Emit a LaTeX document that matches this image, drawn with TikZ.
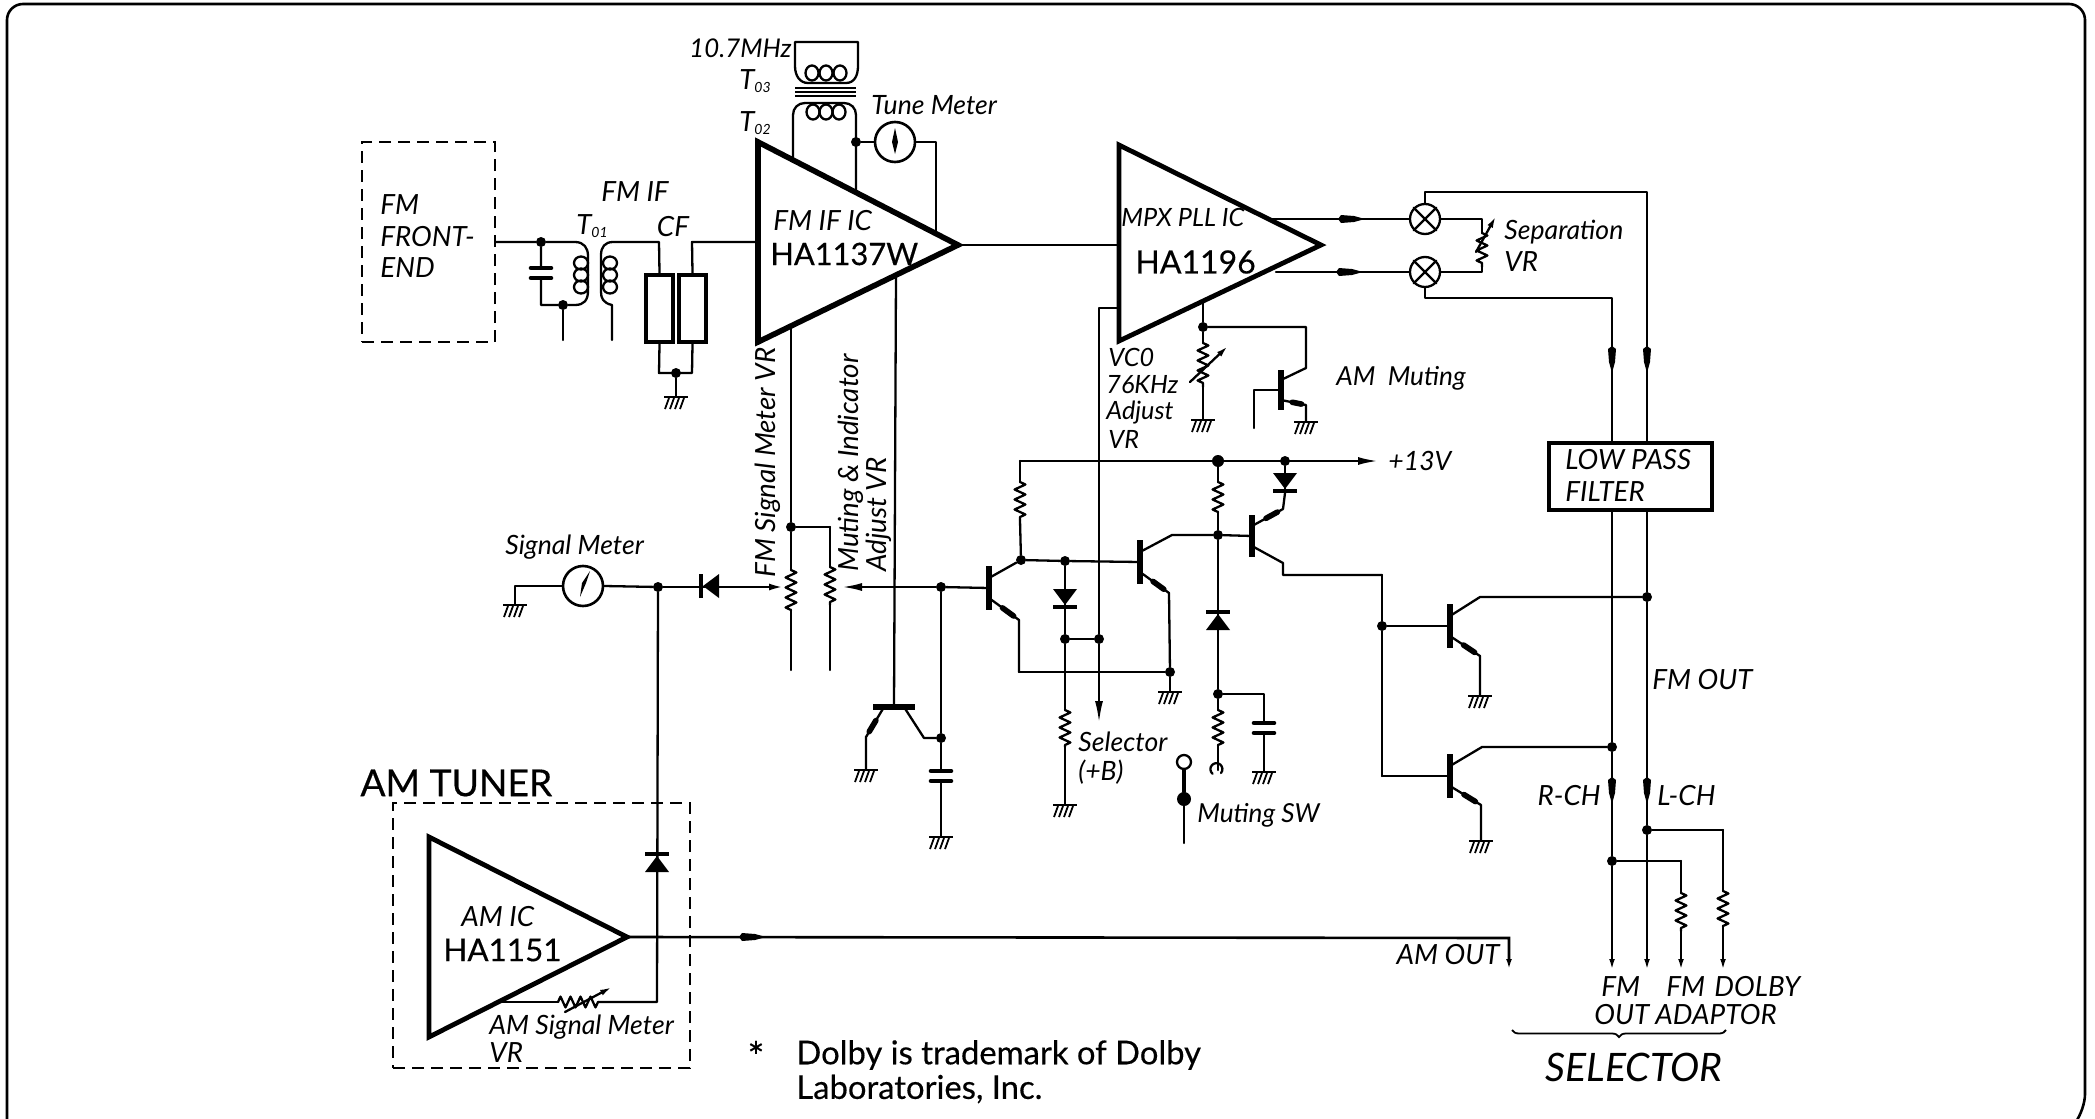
\documentclass[tikz,border=0pt]{standalone}
\usepackage{fontspec}
\setmainfont{Lato}
\newfontfamily\medfont[FakeBold=0.4]{Lato}
\usetikzlibrary{calc,arrows.meta,decorations.pathmorphing,decorations.pathreplacing}
\newcommand\defpt[3]{\coordinate (#1) at (#2,#3);}
\tikzset{
  wire/.style={line width=1.15pt,line cap=round,line join=round},
  barw/.style={line width=2.8pt,line cap=butt},
  icbody/.style={line width=2.8pt,line join=miter},
  dashbox/.style={draw,line width=1.1pt,dash pattern=on 6pt off 3.5pt,inner sep=0pt},
  dot/.style={circle,fill=black,inner sep=0pt,minimum size=5pt},
  txt/.style={inner sep=0pt,font=\itshape\fontsize{13.9}{16}\selectfont},
  midtxt/.style={inner sep=0pt,font=\itshape\fontsize{13.3}{16}\selectfont},
  smtxt/.style={inner sep=0pt,font=\itshape\fontsize{12.6}{15}\selectfont},
  bigtxt/.style={inner sep=0pt,font=\itshape\fontsize{19.6}{22}\selectfont},
  chip/.style={inner sep=0pt,font=\medfont\fontsize{16}{18}\selectfont},
  heavy/.style={inner sep=0pt,font=\medfont\fontsize{16.4}{19}\selectfont},
  rzig/.style={decorate,decoration={zigzag,amplitude=2.7pt,segment length=5pt}},
  endtip/.style={-{Latex[length=6pt,width=2.8pt]}},
  lampn/.style={draw,circle,line width=1.15pt,inner sep=0pt,minimum size=15pt},
  metern/.style={draw,circle,line width=1.3pt,inner sep=0pt,minimum size=20pt},
  ahead/.pic={\fill (-14,0)--(-11,-4)--(2,-3)--(13,0)--(2,3)--(-11,4)--cycle;},
  gnd/.pic={
    \draw[line width=1.4pt] (-12,0)--(12,0);
    \foreach \hx in {-7,-2,3,8}{\draw[line width=.9pt] (\hx,1)--(\hx-4,12);}
  },
  dio/.pic={
    \fill (-8,-12)--(-8,12)--(8,0)--cycle;
    \draw[line width=2.3pt] (10,-12)--(10,12);
  },
  capa/.pic={
    \draw[line width=2.3pt,line cap=round] (-10,-5)--(10,-5);
    \draw[line width=2.3pt,line cap=round] (-10,5)--(10,5);
  },
}
\newcommand\Blob[2]{\draw[line width=2.8pt,line cap=round] ($(#1)!.45!(#2)$)--($(#1)!.82!(#2)$);}
% name, bar x, mid y, half length : gives name-t, name-b, name-s (upper lead start), name-r (lower lead start), name-m (base)
\newcommand\Trans[4]{
  \coordinate (#1-t) at (#2,{#3-#4});
  \coordinate (#1-b) at (#2,{#3+#4});
  \coordinate (#1-s) at (#2,{#3-10});
  \coordinate (#1-r) at (#2,{#3+10});
  \coordinate (#1-m) at (#2,#3);
  \draw[barw] (#1-t)--(#1-b);
}
\newcommand\Res[4]{\draw[wire] (#1)--(#2); \draw[wire,rzig] (#2)--(#3); \draw[wire] (#3)--(#4);}
\begin{document}
\begin{tikzpicture}[x=0.5pt,y=-0.5pt]
\useasboundingbox (0,0) rectangle (2095,1119);
\fill[white] (0,0) rectangle (2095,1119);
% ---------- frame
\defpt{fa}{7}{1119}\defpt{fb}{7}{4}\defpt{fc}{2085}{4}\defpt{fd}{2085}{1110}\defpt{fe}{2078}{1119}
\draw[line width=1.3pt,rounded corners=8pt] (fa)--(fb)--(fc)--(fd)--(fe);

% ---------- FM front end and IF stage
\node[dashbox,minimum width=66.5pt,minimum height=100pt] (fmbox) at (428.5,242) {};
\node[txt,anchor=west] (tfm1) at (380,205) {FM};
\node[txt,anchor=west] (tfm2) at (380,237) {FRONT-};
\node[txt,anchor=west] (tfm3) at (380,268) {END};
\node[dot] (j1) at (541,242) {};
\node[dot] (j2) at (563,305) {};
\defpt{p1a}{575}{242}\defpt{p1b}{588}{256}\defpt{p1c}{588}{291}\defpt{p1d}{575}{305}
\defpt{c1a}{541}{305}\defpt{g1}{563}{340}
\draw[wire] (fmbox.east)--(j1)--(p1a) .. controls (584,242) and (588,248) .. (p1b)--(p1c) .. controls (588,300) and (584,305) .. (p1d)--(j2)--(c1a)--(j1);
\fill[white] (533,269) rectangle (549,277);
\pic at (541,273) {capa};
\draw[wire] (j2)--(g1);
\foreach \cy in {263,275,287}{\draw[wire] (581,\cy) ellipse [x radius=7,y radius=6.5];}
\foreach \cy in {263,275,287}{\draw[wire] (610,\cy) ellipse [x radius=7,y radius=6.5];}
\defpt{s1a}{613}{242}\defpt{s1b}{601}{255}\defpt{s1c}{601}{292}\defpt{s1d}{612}{305}\defpt{s1e}{612}{340}
\node[draw,line width=2.2pt,minimum width=13.5pt,minimum height=33.5pt,inner sep=0pt] (cf1) at (659.5,308.5) {};
\node[draw,line width=2.2pt,minimum width=13.5pt,minimum height=33.5pt,inner sep=0pt] (cf2) at (692.5,308.5) {};
\defpt{cft}{659}{242}\defpt{cfr}{692}{242}\defpt{cfa}{659}{373}\defpt{cfb}{692}{373}
\draw[wire] (s1e)--(s1d) .. controls (603,303) and (601,298) .. (s1c)--(s1b) .. controls (601,247) and (605,242) .. (s1a)--(cft)--(cf1.north);
\draw[wire] (cf1.south)--(cfa)--(cfb)--(cf2.south);
\node[dot] (j3) at (676,373) {};
\defpt{g2}{676}{397}
\draw[wire] (j3)--(g2);
\pic at (g2) {gnd};
\node[txt,anchor=center] (tfmif) at (635,192) {FM IF};
\node[txt,anchor=center] (tt01) at (592,226) {T\raisebox{-.2ex}{\scriptsize 01}};
\node[txt,anchor=center] (tcf) at (673,227) {CF};

% ---------- FM IF IC
\defpt{ifa}{758}{142}\defpt{ifb}{758}{342}\defpt{ifc}{958}{245}
\draw[icbody] (ifa)--(ifb)--(ifc)--cycle;
\draw[wire] (cf2.north)--(cfr)--(756,242);
\node[txt,anchor=west] (tific) at (773,221) {FM IF IC};
\node[chip,anchor=west,font=\medfont\fontsize{15.4}{18}\selectfont] (tifn) at (770,254) {HA1137W};
% transformers
\defpt{t2l}{793}{160}\defpt{t2r}{856}{192}\defpt{t2a}{793}{115}\defpt{t2b}{805}{103}\defpt{t2c}{844}{103}\defpt{t2d}{856}{115}
\draw[wire] (t2l)--(t2a) .. controls (793,108) and (798,103) .. (t2b)--(t2c) .. controls (851,103) and (856,108) .. (t2d)--(t2r);
\foreach \cx in {813,826,839}{\draw[wire] (\cx,112) ellipse [x radius=6.5,y radius=7.5];}
\foreach \cx in {812,826,840}{\draw[wire] (\cx,73) ellipse [x radius=6.5,y radius=7.5];}
\defpt{t3a}{795}{42}\defpt{t3b}{858}{42}\defpt{t3c}{795}{66}\defpt{t3d}{858}{66}\defpt{t3e}{808}{83}\defpt{t3f}{846}{83}
\draw[wire] (t3c)--(t3a)--(t3b)--(t3d) .. controls (858,76) and (854,83) .. (t3f)--(t3e) .. controls (800,83) and (795,76) .. (t3c);
\foreach \ly in {88,92,96}{\draw[line width=.9pt] (795,\ly)--(856,\ly);}
\node[dot] (j4) at (856,142) {};
\node[metern] (mt) at (895,142) {};
\defpt{mtr}{936}{142}\defpt{mtd}{936}{234}
\draw[wire] (j4)--(mt.west);
\draw[wire] (mt.east)--(mtr)--(mtd);
\fill (895,128)--(892,142)--(895,154)--(898,142)--cycle;
\node[smtxt,anchor=east,font=\itshape\fontsize{12.9}{15}\selectfont] (t107) at (792,48) {10.7MHz};
\node[txt,anchor=center] (tt03) at (755,81) {T\raisebox{-.2ex}{\scriptsize 03}};
\node[txt,anchor=center] (tt02) at (755,123) {T\raisebox{-.2ex}{\scriptsize 02}};
\node[midtxt,anchor=west] (ttune) at (871,105) {Tune Meter};

% ---------- MPX IC
\defpt{mxa}{1119}{145}\defpt{mxb}{1119}{341}\defpt{mxc}{1321}{245}
\draw[wire] (ifc)--(1119,245);
\draw[line width=2.4pt,line join=miter] (mxa)--(mxb)--(mxc)--cycle;
\node[smtxt,anchor=west] (tmx) at (1121,217) {MPX PLL IC};
\node[chip,anchor=west] (tmxn) at (1135,262) {HA1196};
% lamps
\node[lampn] (l1) at (1425,219) {};
\node[lampn] (l2) at (1425,272) {};
\foreach \ln in {l1,l2}{
  \draw[wire] (\ln.north east)--(\ln.south west);
  \draw[wire] (\ln.north west)--(\ln.south east);
}
\defpt{o1}{1272}{219}\defpt{o2}{1276}{272}
\draw[wire] (o1)--(l1.west);
\draw[wire] (o2)--(l2.west);
\pic at (1352,219) {ahead};
\pic at (1350,272) {ahead};
\defpt{ra}{1482}{219}\defpt{rb}{1482}{233}\defpt{rc}{1482}{267}\defpt{rd}{1482}{272}
\draw[wire] (l1.east)--(ra)--(rb);
\draw[wire,rzig] (rb)--(rc);
\draw[wire] (rc)--(rd)--(l2.east);
\defpt{rva}{1476}{252}\defpt{rvb}{1496}{216}
\draw[wire,-{Latex[length=6pt,width=3pt]}] (rva)--(rvb);
\node[midtxt,anchor=west] (tsep) at (1504,232) {Separation};
\node[txt,anchor=west] (tsvr) at (1504,262) {VR};
% lines to LPF
\node[draw,line width=2.2pt,minimum width=81.5pt,minimum height=33.5pt,inner sep=0pt] (lpf) at (1630.5,476.5) {};
\node[txt,anchor=west] (tlpf1) at (1565,460) {LOW PASS};
\node[txt,anchor=west] (tlpf2) at (1565,492) {FILTER};
\defpt{lt}{1425}{192}\defpt{lr}{1647}{192}\defpt{ld}{1647}{443}
\defpt{mt2}{1425}{298}\defpt{mr}{1612}{298}\defpt{md}{1612}{443}
\draw[wire] (l1.north)--(lt)--(lr)--(ld);
\draw[wire] (l2.south)--(mt2)--(mr)--(md);
\pic[rotate=-90] at (1612,360) {ahead};
\pic[rotate=-90] at (1647,360) {ahead};

% ---------- VCO pot and AM muting
\node[dot] (j5) at (1203,327) {};
\defpt{vt}{1203}{301}\defpt{va}{1203}{343}\defpt{vb}{1203}{387}\defpt{vg}{1203}{420}
\draw[wire] (vt)--(j5);
\Res{j5}{va}{vb}{vg}
\pic at (vg) {gnd};
\defpt{vva}{1190}{382}\defpt{vvb}{1228}{346}
\draw[wire,-{Latex[length=6pt,width=3pt]}] (vva)--(vvb);
\node[smtxt,anchor=west] (tv1) at (1108,357) {VC0};
\node[smtxt,anchor=west] (tv2) at (1106,385) {76KHz};
\node[smtxt,anchor=west] (tv3) at (1106,413) {Adjust};
\node[smtxt,anchor=west] (tv4) at (1108,439) {VR};
\Trans{qm}{1281}{390}{20}
\defpt{qmc}{1306}{368}\defpt{qme}{1306}{405}\defpt{qmt}{1306}{327}\defpt{qmg}{1306}{422}\defpt{qmh}{1254}{390}\defpt{qmi}{1254}{428}
\draw[wire] (j5)--(qmt)--(qmc)--(qm-s);
\draw[wire] (qm-r)--(qme)--(qmg);
\Blob{qm-r}{qme}
\pic at (qmg) {gnd};
\draw[wire] (qm-m)--(qmh)--(qmi);
\node[smtxt,anchor=west,font=\itshape\fontsize{13.1}{15}\selectfont] (tmut) at (1336,378) {AM\ \ Muting};

% ---------- +13 V rail
\defpt{ra0}{1020}{461}\defpt{ra1}{1378}{461}
\node[dot,minimum size=6pt] (j6) at (1218,461) {};
\node[dot] (j7) at (1285,461) {};
\draw[wire,-{Latex[length=10pt,width=4pt]}] (ra0)--(ra1);
\node[midtxt,anchor=west] (t13) at (1388,461) {+13V};

% Q1
\Trans{qa}{989}{588}{22}
\node[dot] (j8) at (1021,560) {};
\defpt{r1a}{1020}{482}\defpt{r1b}{1020}{520}
\Res{ra0}{r1a}{r1b}{j8}
\draw[wire] (qa-s)--(j8);
\defpt{qae}{1019}{620}\defpt{qaf}{1019}{672}
\draw[wire] (qa-r)--(qae)--(qaf);
\Blob{qa-r}{qae}
% Q2
\Trans{qb}{1140}{562}{22}
\defpt{qbc}{1172}{535}\defpt{qbe}{1169}{593}
\node[dot] (j9) at (1218,535) {};
\node[dot] (j10) at (1170,672) {};
\node[dot] (j11) at (1065,561) {};
\node[dot] (j12) at (1065,639) {};
\node[dot] (j13) at (1099,639) {};
\draw[wire] (j8)--(j11)--(qb-m);
\draw[wire] (qb-s)--(qbc)--(j9);
\draw[wire] (qb-r)--(qbe)--(j10);
\Blob{qb-r}{qbe}
\draw[wire] (qaf)--(j10);
\defpt{g3}{1170}{692}
\draw[wire] (j10)--(g3);
\pic at (g3) {gnd};
% R to rail, diode down
\defpt{r2a}{1218}{482}\defpt{r2b}{1218}{512}
\Res{j6}{r2a}{r2b}{j9}
\node[dot] (j14) at (1218,694) {};
\draw[wire] (j9)--(j14);
\pic[rotate=90] at (1218,622) {dio};
\defpt{r3a}{1218}{710}\defpt{r3b}{1218}{745}\defpt{r3c}{1218}{770}
\Res{j14}{r3a}{r3b}{r3c}
\draw[wire] (1221,773) arc[start angle=-40,end angle=230,x radius=6,y radius=-6];
\defpt{c3a}{1264}{694}\defpt{c3b}{1264}{772}
\draw[wire] (j14)--(c3a)--(c3b);
\fill[white] (1255,724) rectangle (1273,732);
\pic at (1264,728) {capa};
\pic at (c3b) {gnd};
% Q3
\Trans{qc}{1252}{536}{21}
\defpt{qcu}{1283}{509}\defpt{qcv}{1285}{493}\defpt{qcl}{1283}{563}\defpt{qcd}{1283}{575}\defpt{qcx}{1382}{575}
\draw[wire] (j9)--(qc-m);
\draw[wire] (qc-s)--(qcu)--(qcv);
\Blob{qc-s}{qcu}
\draw[wire] (j7)--(qcv);
\pic[rotate=-90] at (1285,481) {dio};
\draw[wire] (qc-r)--(qcl)--(qcd)--(qcx);
% diode and resistor on the left
\draw[wire] (j11)--(j12);
\pic[rotate=-90] at (1065,597) {dio};
\defpt{r4a}{1065}{710}\defpt{r4b}{1065}{747}\defpt{g4}{1065}{805}
\Res{j12}{r4a}{r4b}{g4}
\pic at (g4) {gnd};
\draw[wire] (j12)--(j13);
% VCO / selector line
\defpt{vc0}{1119}{308}\defpt{vc1}{1099}{308}\defpt{vc2}{1099}{723}
\draw[wire] (vc0)--(vc1)--(j13);
\draw[wire,-{Latex[length=11pt,width=4pt]}] (j13)--(vc2);
\node[midtxt,anchor=west] (tsel1) at (1078,742) {Selector};
\node[midtxt,anchor=west] (tsel2) at (1078,772) {(+B)};
% muting switch
\node[draw,circle,line width=1.15pt,minimum size=7pt,inner sep=0pt] (sw1) at (1184,762) {};
\node[dot,minimum size=7pt] (sw2) at (1184,799) {};
\defpt{sw3}{1184}{843}
\draw[line width=2.4pt,line cap=round] (sw1.south)--(sw2);
\draw[wire] (sw2)--(sw3);
\node[midtxt,anchor=west,font=\itshape\fontsize{13.1}{15}\selectfont] (tmsw) at (1197,815) {Muting SW};

% ---------- Q5, Q6 mute transistors
\node[dot] (j15) at (1382,626) {};
\defpt{qf}{1382}{776}
\draw[wire] (qcx)--(j15)--(qf);
\Trans{qd}{1450}{626}{22}
\Trans{qe}{1450}{776}{22}
\draw[wire] (j15)--(qd-m);
\draw[wire] (qf)--(qe-m);
\defpt{qdc}{1480}{597}\defpt{qde}{1480}{656}\defpt{g5}{1480}{696}
\defpt{qec}{1482}{747}\defpt{qee}{1481}{805}\defpt{g6}{1481}{841}
\node[dot] (j16) at (1647,597) {};
\node[dot] (j17) at (1612,747) {};
\draw[wire] (qd-s)--(qdc)--(j16);
\draw[wire] (qd-r)--(qde)--(g5);
\Blob{qd-r}{qde}
\pic at (g5) {gnd};
\draw[wire] (qe-s)--(qec)--(j17);
\draw[wire] (qe-r)--(qee)--(g6);
\Blob{qe-r}{qee}
\pic at (g6) {gnd};

% ---------- outputs
\node[dot] (j18) at (1647,830) {};
\node[dot] (j19) at (1612,861) {};
\defpt{e1}{1612}{971}\defpt{e2}{1647}{971}\defpt{e3}{1681}{971}\defpt{e4}{1723}{971}
\draw[wire] (1612,510)--(j17)--(j19);
\draw[wire,endtip] (j19)--(e1);
\draw[wire] (1647,510)--(j16)--(j18);
\draw[wire,endtip] (j18)--(e2);
\pic[rotate=-90] at (1612,791) {ahead};
\pic[rotate=-90] at (1647,791) {ahead};
\defpt{oa}{1681}{861}\defpt{ob}{1681}{893}\defpt{oc}{1681}{931}
\draw[wire] (j19)--(oa);
\Res{oa}{ob}{oc}{oc}
\draw[wire,endtip] (oc)--(e3);
\defpt{pa}{1723}{830}\defpt{pb}{1723}{891}\defpt{pc}{1723}{926}
\draw[wire] (j18)--(pa);
\Res{pa}{pb}{pc}{pc}
\draw[wire,endtip] (pc)--(e4);
\node[txt,anchor=west] (tfmo) at (1652,680) {FM OUT};
\node[txt,anchor=east] (trch) at (1601,796) {R-CH};
\node[txt,anchor=west] (tlch) at (1657,796) {L-CH};
\node[txt,anchor=west] (to1) at (1601,987) {FM};
\node[txt,anchor=west] (to2) at (1594,1015) {OUT};
\node[txt,anchor=west] (to3) at (1666,987) {FM};
\node[txt,anchor=west] (to4) at (1714,987) {DOLBY};
\node[txt,anchor=west] (to5) at (1655,1015) {ADAPTOR};
\defpt{ba}{1512}{1030}\defpt{bb}{1726}{1030}
\draw[line width=.9pt,decorate,decoration={brace,amplitude=3.5pt,mirror}] (ba)--(bb);
\node[bigtxt,anchor=center] (tselr) at (1634,1067) {SELECTOR};

% ---------- signal meter and pots
\defpt{gs}{515}{605}\defpt{sm0}{515}{586}
\node[metern] (ms) at (583,586) {};
\node[dot] (j20) at (658,587) {};
\draw[wire] (gs)--(sm0)--(ms.west);
\draw[wire] (ms.east)--(j20);
\pic at (gs) {gnd};
\fill (590,571)--(586,583)--(580,597)--(582,583)--cycle;
\node[midtxt,anchor=west] (tsm) at (505,547) {Signal Meter};
\pic[rotate=180] at (711,586) {dio};
\defpt{pm}{783}{587}
\draw[wire,-{Latex[length=7pt,width=3.5pt]}] (j20)--(pm);
% FM signal pot
\defpt{ws}{791}{326}\defpt{fa1}{791}{570}\defpt{fa2}{791}{610}\defpt{fa3}{791}{670}
\node[dot] (j21) at (791,527) {};
\draw[wire] (ws)--(j21);
\Res{j21}{fa1}{fa2}{fa3}
\defpt{mu0}{830}{527}\defpt{mu1}{830}{567}\defpt{mu2}{830}{605}\defpt{mu3}{830}{670}
\draw[wire] (j21)--(mu0);
\Res{mu0}{mu1}{mu2}{mu3}
\node[txt,rotate=90,anchor=west] (tfms) at (768,578) {FM Signal Meter VR};
\node[txt,rotate=90,anchor=west] (tmi) at (851,572) {Muting \& Indicator};
\node[txt,rotate=90,anchor=west] (tad) at (879,572) {Adjust VR};
% base line
\node[dot] (j22) at (941,587) {};
\defpt{pn}{842}{587}
\draw[wire] (j22)--(qa-m);
\draw[wire,-{Latex[length=10pt,width=4pt]}] (j22)--(pn);
% Q4
\defpt{ww}{896}{275}\defpt{q4m}{894}{707}\defpt{q4a}{873}{707}\defpt{q4b}{915}{707}\defpt{q4l}{884}{707}\defpt{q4r}{904}{707}
\defpt{q4e}{866}{737}\defpt{q4g}{866}{770}\defpt{q4c}{924}{738}
\draw[wire] (ww)--(q4m);
\draw[barw] (q4a)--(q4b);
\draw[wire] (q4l)--(q4e)--(q4g);
\Blob{q4l}{q4e}
\pic at (q4g) {gnd};
\node[dot] (j23) at (941,738) {};
\draw[wire] (q4r)--(q4c)--(j23);
\defpt{g7}{941}{837}
\draw[wire] (j22)--(j23)--(g7);
\fill[white] (932,772) rectangle (950,780);
\pic at (941,776) {capa};
\pic at (g7) {gnd};

% ---------- AM tuner
\node[inner sep=0pt,font=\medfont\fontsize{18.6}{21}\selectfont,anchor=west] (tam) at (360,783) {AM TUNER};
\node[dashbox,minimum width=148.5pt,minimum height=132.5pt] (ambox) at (541.5,935.5) {};
\defpt{ama}{429}{837}\defpt{amb}{429}{1037}\defpt{amc}{627}{937}
\draw[line width=2.4pt,line join=miter] (ama)--(amb)--(amc)--cycle;
\node[txt,anchor=west] (tamic) at (461,917) {AM IC};
\node[chip,anchor=west,font=\medfont\fontsize{15.7}{18}\selectfont] (tamn) at (443,950) {HA1151};
\defpt{amv}{657}{1002}\defpt{amu}{501}{1002}\defpt{amw}{558}{1002}\defpt{amx}{598}{1002}
\draw[wire] (j20)--(amv)--(amx);
\draw[wire,rzig] (amx)--(amw);
\draw[wire] (amw)--(amu);
\pic[rotate=90] at (657,864) {dio};
\defpt{ava}{565}{1012}\defpt{avb}{612}{987}
\draw[wire,-{Latex[length=6pt,width=3pt]}] (ava)--(avb);
\node[midtxt,anchor=west] (tas) at (489,1027) {AM Signal Meter};
\node[txt,anchor=west] (tasv) at (489,1053) {VR};
\defpt{aot}{1509}{938}\defpt{aoe}{1509}{971}
\draw[line width=1.3pt,line cap=round,endtip] (amc)--(aot)--(aoe);
\pic at (753,937) {ahead};
\node[txt,anchor=east] (taout) at (1500,955) {AM OUT};
% ---------- footnote
\node[inner sep=0pt,font=\medfont\fontsize{20}{22}\selectfont,anchor=center] (tstar) at (756,1056) {*};
\node[heavy,anchor=west] (tdol1) at (796,1055) {Dolby is trademark of Dolby};
\node[heavy,anchor=west] (tdol2) at (796,1089) {Laboratories, Inc.};
\end{tikzpicture}
\end{document}
